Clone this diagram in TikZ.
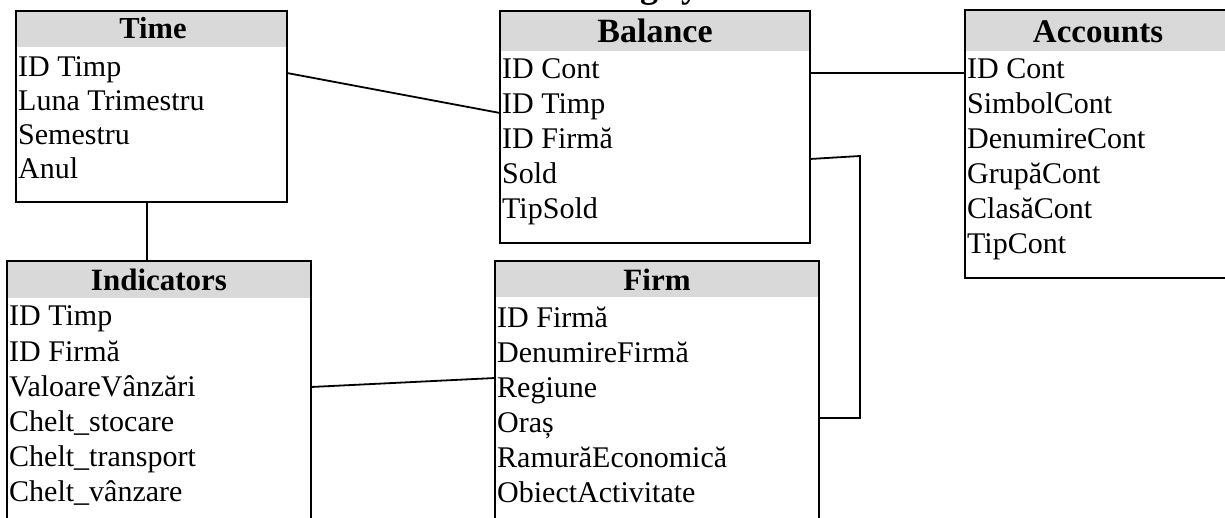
\documentclass[tikz,border=0pt]{standalone}
\usepackage{fontspec}
\setmainfont{Liberation Serif}
\usetikzlibrary{calc}
\definecolor{hdrgray}{HTML}{D9D9D9}
\tikzset{
  tbl/.style={draw, line width=1.8pt, anchor=north west, inner sep=0pt, outer sep=0pt},
  hdr/.style={font=\fontsize{#1}{#1}\selectfont\bfseries, anchor=base, inner sep=0pt},
  row/.style={font=\fontsize{30}{34}\selectfont, anchor=base west, inner sep=0pt},
  link/.style={line width=1.8pt},
  ttl/.style={font=\fontsize{36}{36}\selectfont\bfseries, anchor=base, inner sep=0pt}
}
\begin{document}
\begin{tikzpicture}[x=1pt,y=-1pt]
\useasboundingbox (0,0) rectangle (1225,518);
\clip (0,0) rectangle (1225,518);
% title (cut off at top, as in the reference)
\node[ttl] (title) at (596,-2) {The accounting system};
% tables
\node[tbl, minimum width=271pt, minimum height=191pt] (time) at (16,11) {};
\node[tbl, minimum width=310pt, minimum height=232pt] (bal) at (500,11) {};
\node[tbl, minimum width=275pt, minimum height=268pt] (acc) at (965,10) {};
\node[tbl, minimum width=304pt, minimum height=290pt] (ind) at (7,261) {};
\node[tbl, minimum width=324pt, minimum height=290pt] (firm) at (495,261) {};
% header fills
\fill[hdrgray] ($(time.north west)+(1,1)$) rectangle ($(time.north east)+(-1,36)$);
\fill[hdrgray] ($(bal.north west)+(1,1)$) rectangle ($(bal.north east)+(-1,40)$);
\fill[hdrgray] ($(acc.north west)+(1,1)$) rectangle ($(acc.north east)+(-1,41)$);
\fill[hdrgray] ($(ind.north west)+(1,1)$) rectangle ($(ind.north east)+(-1,37)$);
\fill[hdrgray] ($(firm.north west)+(1,1)$) rectangle ($(firm.north east)+(-1,36)$);
% headers
\node[hdr=30.5] (timeh) at (153,39) {Time};
\node[hdr=34] (balh) at (655,43) {Balance};
\node[hdr=33] (acch) at (1098,43) {Accounts};
\node[hdr=31] (indh) at (159,291) {Indicators};
\node[hdr=31] (firmh) at (657,291) {Firm};
% Time rows
\node[row] (t1) at (18,77) {ID Timp};
\node[row] (t2) at (18,111) {Luna Trimestru};
\node[row] (t3) at (18,145) {Semestru};
\node[row] (t4) at (18,179) {Anul};
% Balance rows
\node[row] (b1) at (502,79) {ID Cont};
\node[row] (b2) at (502,114) {ID Timp};
\node[row] (b3) at (502,149) {ID Firmă};
\node[row] (b4) at (502,184) {Sold};
\node[row] (b5) at (502,219) {TipSold};
% Accounts rows
\node[row] (a1) at (967,79) {ID Cont};
\node[row] (a2) at (967,114) {SimbolCont};
\node[row] (a3) at (967,149) {DenumireCont};
\node[row] (a4) at (967,184) {GrupăCont};
\node[row] (a5) at (967,219) {ClasăCont};
\node[row] (a6) at (967,254) {TipCont};
% Indicators rows
\node[row] (i1) at (9,326) {ID Timp};
\node[row] (i2) at (9,361) {ID Firmă};
\node[row] (i3) at (9,396) {ValoareVânzări};
\node[row] (i4) at (9,431) {Chelt\_stocare};
\node[row] (i5) at (9,466) {Chelt\_transport};
\node[row] (i6) at (9,501) {Chelt\_vânzare};
% Firm rows
\node[row] (f1) at (497,327) {ID Firmă};
\node[row] (f2) at (497,362) {DenumireFirmă};
\node[row] (f3) at (497,397) {Regiune};
\node[row] (f4) at (497,432) {Oraș};
\node[row] (f5) at (497,467) {RamurăEconomică};
\node[row] (f6) at (497,502) {ObiectActivitate};
% connectors
\coordinate (k1) at (860,156);
\draw[link] ($(time.north east)+(0,62)$) -- ($(bal.north west)+(0,102)$);
\draw[link] ($(bal.north east)+(0,62)$) -- ($(acc.north west)+(0,63)$);
\draw[link] ($(bal.north east)+(0,148)$) -- (k1) |- ($(firm.north east)+(0,157)$);
\draw[link] ($(time.south west)+(131,0)$) -- ($(ind.north west)+(140,0)$);
\draw[link] ($(ind.north east)+(0,126)$) -- ($(firm.north west)+(0,117)$);
\end{tikzpicture}
\end{document}
